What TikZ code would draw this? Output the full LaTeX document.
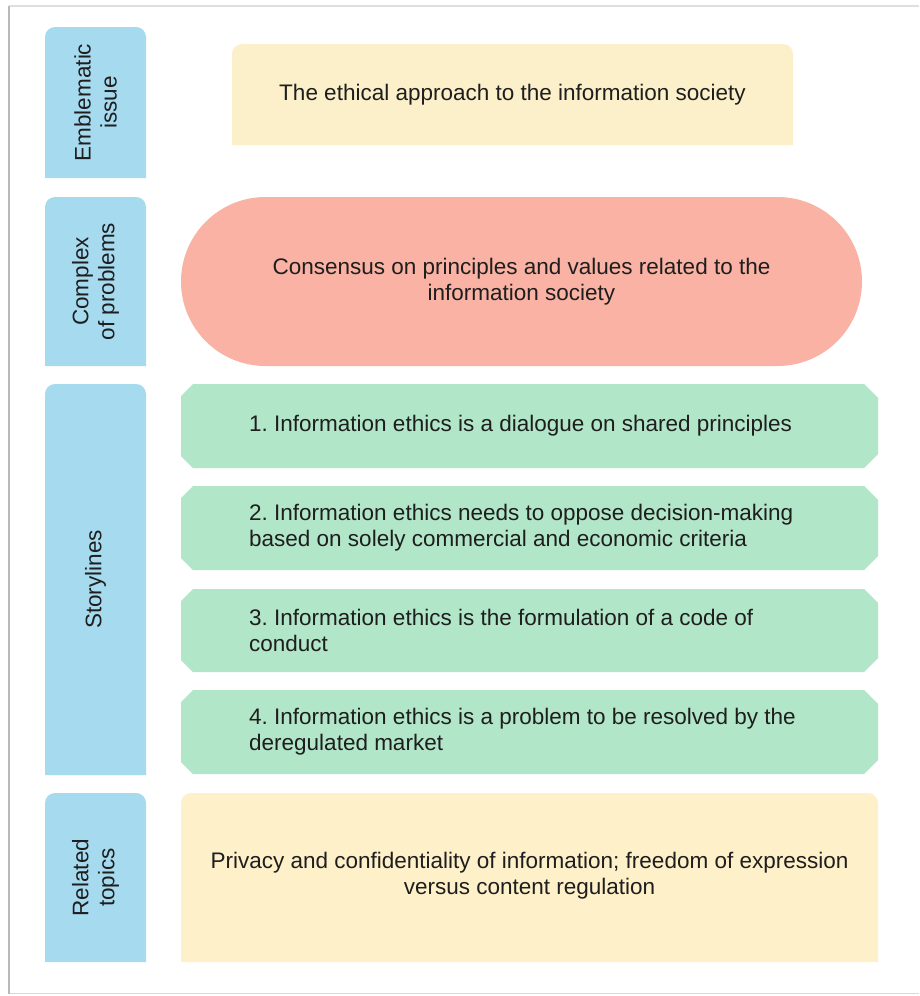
\documentclass[tikz,border=0pt]{standalone}
\usepackage{fontspec}
\setmainfont{Liberation Sans}
\usetikzlibrary{shapes.misc}

\definecolor{labblue}{HTML}{A6DAEF}
\definecolor{issueyel}{HTML}{FBF0C9}
\definecolor{topicyel}{HTML}{FEF0C9}
\definecolor{probred}{HTML}{F9B2A4}
\definecolor{storygreen}{HTML}{B2E6C8}
\definecolor{inktext}{HTML}{1E1E1E}

\begin{document}
\frenchspacing
\begin{tikzpicture}[x=1pt,y=-1pt,
    every node/.style={text=inktext,font=\fontsize{22.5}{26}\selectfont,align=center,inner sep=0pt},
    storytext/.style={anchor=west,align=left},
    sidelabel/.style={rotate=90}]
    \useasboundingbox (0,0) rectangle (919,996);
    % page edge
    \fill[white] (9,7) rectangle (919,993);
    \draw[gray!25,line width=1.5pt] (9,6) -- (919,6);
    \draw[gray!30,line width=1.5pt] (9,993.5) -- (919,993.5);
    \draw[gray!55,line width=2.5pt] (9,6) -- (9,994);

    % left labels, rounded on top only
    \fill[labblue] (45,178) -- (45,100) [rounded corners=10pt] -- (45,27) -- (146,27) -- (146,100) [sharp corners] -- (146,178) -- cycle;
    \fill[labblue] (45,366) -- (45,280) [rounded corners=10pt] -- (45,197) -- (146,197) -- (146,280) [sharp corners] -- (146,366) -- cycle;
    \fill[labblue] (45,775) -- (45,580) [rounded corners=10pt] -- (45,384) -- (146,384) -- (146,580) [sharp corners] -- (146,775) -- cycle;
    \fill[labblue] (45,962) -- (45,880) [rounded corners=10pt] -- (45,793) -- (146,793) -- (146,880) [sharp corners] -- (146,962) -- cycle;
    \node[sidelabel] (lbl-issue) at (95.5,102.5) {Emblematic\\issue};
    \node[sidelabel] (lbl-problems) at (95.5,281.5) {Complex\\of problems};
    \node[sidelabel] (lbl-story) at (95.5,579.5) {Storylines};
    \node[sidelabel] (lbl-topics) at (95.5,877.5) {Related\\topics};

    % emblematic issue
    \fill[issueyel] (232,145) -- (232,90) [rounded corners=10pt] -- (232,44) -- (793,44) -- (793,90) [sharp corners] -- (793,145) -- cycle;
    \node (issue) at (512.5,95) {The ethical approach to the information society};

    % complex of problems
    \node[rounded rectangle,fill=probred,minimum width=681pt,minimum height=169pt] (problems) at (521.5,281.5)
        {Consensus on principles and values related to the\\information society};

    % storylines, cut corners
    \foreach \ytop/\ybot in {384/468, 486/570, 589/672, 690/774}
        \fill[storygreen] (193,\ytop) -- (864,\ytop) -- (878,\ytop+14) -- (878,\ybot-14) -- (864,\ybot)
            -- (193,\ybot) -- (181,\ybot-12) -- (181,\ytop+12) -- cycle;
    \node[storytext] (story1) at (249,426) {1. Information ethics is a dialogue on shared principles};
    \node[storytext] (story2) at (249,528) {2. Information ethics needs to oppose decision-making\\based on solely commercial and economic criteria};
    \node[storytext] (story3) at (249,630.5) {3. Information ethics is the formulation of a code of\\conduct};
    \node[storytext] (story4) at (249,732) {4. Information ethics is a problem to be resolved by the\\deregulated market};

    % related topics
    \fill[topicyel] (181,962) -- (181,880) [rounded corners=10pt] -- (181,793) -- (878,793) -- (878,880) [sharp corners] -- (878,962) -- cycle;
    \node (topics) at (529.5,876) {Privacy and confidentiality of information; freedom of expression\\versus content regulation};
\end{tikzpicture}
\end{document}
